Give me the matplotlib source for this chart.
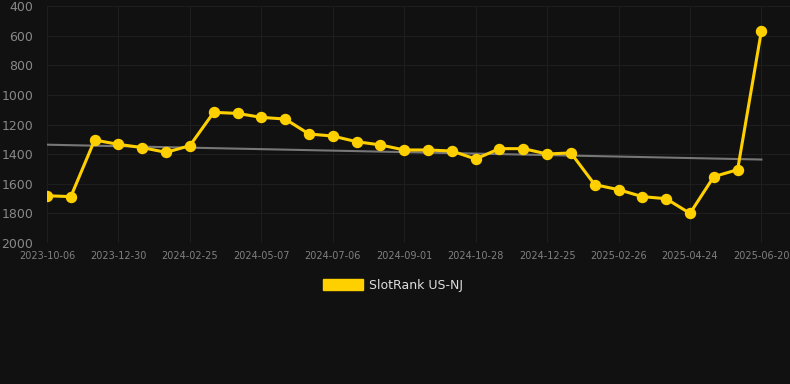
import matplotlib.pyplot as plt
import numpy as np

dates = ['2023-10-06', '2023-12-30', '2024-02-25', '2024-05-07', '2024-07-06',
         '2024-09-01', '2024-10-28', '2024-12-25', '2025-02-26', '2025-04-24',
         '2025-06-20']
ranks = [1681, 1687, 1305, 1334, 1356, 1388, 1343, 1118, 1125, 1152, 1163,
         1264, 1278, 1316, 1338, 1372, 1372, 1379, 1433, 1363, 1363, 1399,
         1392, 1606, 1640, 1687, 1701, 1800, 1552, 1505, 567]
label = 'SlotRank US-NJ'

bg = '#111111'
x = np.arange(len(ranks))

fig = plt.figure(figsize=(7.9, 3.84), dpi=100, facecolor=bg)
ax = fig.add_axes([47 / 790, 1 - 243 / 384, 1 - 47 / 790, 237 / 384])
ax.set_facecolor(bg)

# trend line (least squares over the series)
k, b = np.polyfit(x, ranks, 1)
ax.plot([x[0], x[-1]], [k * x[0] + b, k * x[-1] + b], color='#777777', lw=1.5, zorder=2)

ax.plot(x, ranks, color='#FFD000', lw=2.2, marker='o', ms=7.2, zorder=3)

ax.set_ylim(2000, 400)
ax.set_yticks(range(400, 2001, 200))
ax.set_xlim(0, 31.2)
ax.set_xticks(x[::3])
ax.set_xticklabels(dates)
ax.grid(True, color='#1e1e1e', lw=0.8)
ax.set_axisbelow(True)
for s in ax.spines.values():
    s.set_visible(False)
ax.tick_params(axis='x', colors='#777777', labelsize=7, length=0, pad=6)
ax.tick_params(axis='y', colors='#888888', labelsize=9, length=0, pad=10)
for t in ax.get_xticklabels():
    t.set_color('#808080')

fig.patches.append(plt.Rectangle((323 / 790, 1 - 290 / 384), 40 / 790, 11 / 384,
                                 transform=fig.transFigure, color='#FFD000'))
fig.text(369 / 790, 1 - 285 / 384, label, color='#dddddd', fontsize=9, va='center')

fig.savefig('out.png', facecolor=bg)
